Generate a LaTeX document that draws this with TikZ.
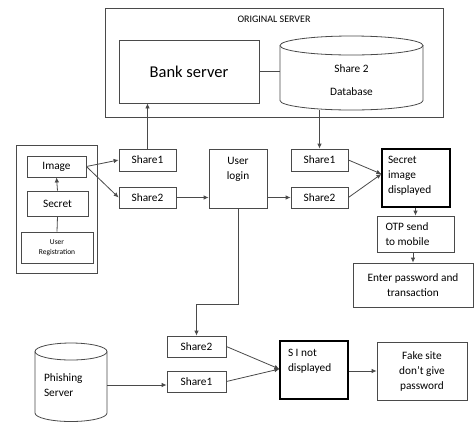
\documentclass[tikz,border=0pt]{standalone}
\usepackage{fontspec}
\setmainfont{Carlito}
\usetikzlibrary{arrows.meta,calc}
\definecolor{ln}{HTML}{4A4A4A}
\begin{document}
\begin{tikzpicture}[x=1pt,y=-1pt,
  box/.style={draw=ln, line width=0.8pt, inner sep=0pt, align=center, font=\fontsize{11.3}{15}\selectfont},
  strongbox/.style={box, draw=black, line width=1.15pt},
  arr/.style={draw=ln, line width=0.8pt, -{Latex[length=5pt,width=4.5pt]}},
  lnk/.style={draw=ln, line width=0.8pt}]
\useasboundingbox (0,0) rectangle (476,424);
% original server
\node[box, minimum width=338pt, minimum height=109pt,
  label={[anchor=north, yshift=-5pt, font=\fontsize{10}{12}\selectfont]north:ORIGINAL SERVER}] (orig) at (274,62.5) {};
\node[box, minimum width=140pt, minimum height=63pt, font=\fontsize{16.5}{18}\selectfont] (bank) at (189,71.5) {Bank server};
% database cylinder
\draw[lnk] (351.5,45.5) ellipse [x radius=71.5pt, y radius=9.5pt];
\draw[lnk] (280,45.5) -- (280,100.5) arc[start angle=180, end angle=360, x radius=71.5pt, y radius=9.5pt] -- (423,45.5);
\node[box, draw=none, minimum width=143pt, minimum height=59pt] (db) at (351.5,80.5) {Share 2\\[8pt]Database};
% left group
\node[box, minimum width=81pt, minimum height=128pt] (grp) at (56.5,209) {};
\node[box, minimum width=59pt, minimum height=21pt] (img) at (56.5,166.5) {Image};
\node[box, minimum width=61pt, minimum height=25pt] (secret) at (57.5,203.5) {Secret};
\node[box, minimum width=72pt, minimum height=31pt, font=\fontsize{7.5}{9.5}\selectfont] (reg) at (57,247.5) {User\\Registration};
% shares
\node[box, minimum width=57pt, minimum height=22pt] (s1l) at (147.5,160) {Share1};
\node[box, minimum width=57pt, minimum height=21pt] (s2l) at (147.5,197.5) {Share2};
\node[box, minimum width=58pt, minimum height=59pt] (login) at (238,178.5) {\parbox[c][43pt][t]{56pt}{\centering User\\login}};
\node[box, minimum width=57pt, minimum height=22pt] (s1r) at (319.5,160) {Share1};
\node[box, minimum width=57pt, minimum height=21pt] (s2r) at (319.5,197.5) {Share2};
\node[strongbox, minimum width=68pt, minimum height=58pt] (si) at (416,178) {\parbox[c][44pt][t]{56pt}{\raggedright Secret\\image\\displayed}};
\node[box, minimum width=77pt, minimum height=36pt] (otp) at (415.5,234) {\parbox{60pt}{\raggedright OTP send\\to mobile}};
\node[box, minimum width=120pt, minimum height=44pt] (enter) at (413,285) {Enter password and\\transaction};
% bottom
\node[box, minimum width=59pt, minimum height=21pt] (s2b) at (196.5,346.5) {Share2};
\node[box, minimum width=59pt, minimum height=21pt] (s1b) at (196.5,381.5) {Share1};
\node[strongbox, minimum width=68pt, minimum height=58pt] (sinot) at (314,370) {\parbox[c][41pt][t]{52pt}{\raggedright S I not\\displayed}};
\node[box, minimum width=90pt, minimum height=58pt] (fake) at (422,371) {Fake site\\don't give\\password};
% phishing cylinder
\draw[lnk] (71,351.5) ellipse [x radius=36pt, y radius=8.5pt];
\draw[lnk] (35,351.5) -- (35,413) arc[start angle=180, end angle=360, x radius=36pt, y radius=8.5pt] -- (107,351.5);
\node[box, draw=none, minimum width=72pt, text width=54pt, align=left] (phish) at (71,385) {Phishing\\Server};
% connectors
\draw[lnk] (bank.east) -- (bank.east -| db.west);
\draw[arr] (secret.north) -- (img.south);
\draw[lnk] (reg.north) -- (secret.south);
\draw[arr] (img.east) -- (s1l.west);
\draw[arr] (img.east) -- (s2l.west);
\draw[arr] (s1l.north) -- (s1l.north |- bank.south);
\draw[arr] (s1r.north |- db.south) -- (s1r.north);
\draw[arr] (s2l.east) -- (s2l.east -| login.west);
\draw[arr] (login.east |- s2r.west) -- (s2r.west);
\coordinate (sin) at ($(si.west)+(0,-4)$);
\draw[arr] (s1r.east) -- (sin);
\draw[arr] (s2r.east) -- (sin);
\draw[arr] (si.south -| otp.north) -- (otp.north);
\draw[arr] (otp.south -| enter.north) -- (enter.north);
\draw[arr] (login.south) -- ++(0,96) -| (s2b.north);
\coordinate (snin) at ($(sinot.west)+(0,-1)$);
\draw[arr] (s2b.east) -- (snin);
\draw[arr] (s1b.east) -- (snin);
\draw[arr] (phish.east) -- (phish.east -| s1b.west);
\draw[arr] (sinot.east |- fake.west) -- (fake.west);
\end{tikzpicture}
\end{document}
